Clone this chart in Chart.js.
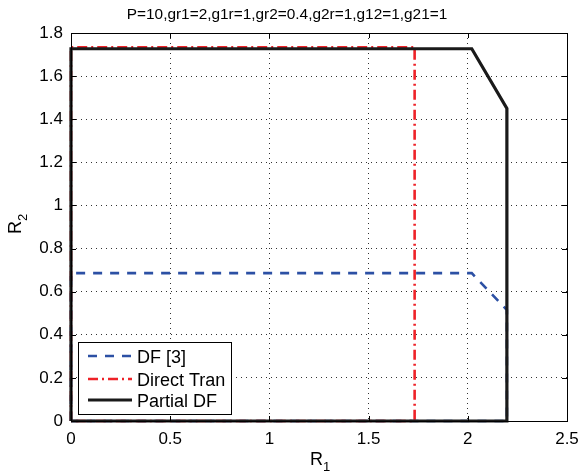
<!DOCTYPE html>
<html><head><meta charset="utf-8">
<script src="https://cdn.jsdelivr.net/npm/chart.js@4/dist/chart.umd.min.js"></script>
<style>html,body{margin:0;padding:0;background:#fff}#wrap{width:581px;height:474px;position:relative}</style>
</head><body><div id="wrap"><canvas id="c" width="581" height="474"></canvas></div>
<script>
const titleText = 'P=10,gr1=2,g1r=1,gr2=0.4,g2r=1,g12=1,g21=1';
const xLabelMain = 'R', xLabelSub = '1';
const yLabelMain = 'R', yLabelSub = '2';
const xTicks = [0, 0.5, 1, 1.5, 2, 2.5];
const yTicks = [0, 0.2, 0.4, 0.6, 0.8, 1, 1.2, 1.4, 1.6, 1.8];
const seriesNames = ['DF [3]', 'Direct Tran', 'Partial DF'];
const dfX  = [0, 0, 2.02, 2.197, 2.197, 0];
const dfY  = [0, 0.686, 0.686, 0.515, 0, 0];
const dtX  = [0, 0, 1.732, 1.732, 0];
const dtY  = [0, 1.734, 1.734, 0, 0];
const pdfX = [0, 0, 2.02, 2.197, 2.197, 0];
const pdfY = [0, 1.727, 1.727, 1.45, 0, 0];

const FONT = '"Liberation Sans", Arial, Helvetica, sans-serif';
const pts = (xs, ys) => xs.map((x, i) => ({x, y: ys[i]}));

const styles = [
  {color: '#2c50a4', width: 2.6, dash: [9, 8], order: 2},
  {color: '#ee2228', width: 2.6, dash: [10, 4, 2, 4], order: 1},
  {color: '#1a1a1a', width: 3.2, dash: [], order: 0}
];
const seriesData = [pts(dfX, dfY), pts(dtX, dtY), pts(pdfX, pdfY)];

const decor = {
  id: 'decor',
  afterDraw(chart) {
    const ctx = chart.ctx, a = chart.chartArea;
    const xs = chart.scales.x, ys = chart.scales.y;
    ctx.save();
    ctx.strokeStyle = '#000'; ctx.lineWidth = 1; ctx.setLineDash([]);
    ctx.strokeRect(a.left + 0.5, a.top + 0.5, a.right - a.left, a.bottom - a.top);
    ctx.beginPath();
    xTicks.forEach(v => {
      const p = Math.round(xs.getPixelForValue(v)) + 0.5;
      ctx.moveTo(p, a.bottom); ctx.lineTo(p, a.bottom - 5);
      ctx.moveTo(p, a.top); ctx.lineTo(p, a.top + 5);
    });
    yTicks.forEach(v => {
      const p = Math.round(ys.getPixelForValue(v)) + 0.5;
      ctx.moveTo(a.left, p); ctx.lineTo(a.left + 5, p);
      ctx.moveTo(a.right, p); ctx.lineTo(a.right - 5, p);
    });
    ctx.stroke();
    ctx.fillStyle = '#000';
    ctx.font = '15.4px ' + FONT;
    ctx.textAlign = 'center'; ctx.textBaseline = 'alphabetic';
    ctx.fillText(titleText, 287, 19);
    ctx.textAlign = 'left';
    ctx.font = '18px ' + FONT;
    ctx.fillText(xLabelMain, 310, 465);
    const rw = ctx.measureText(xLabelMain).width;
    ctx.font = '13px ' + FONT;
    ctx.fillText(xLabelSub, 310 + rw, 471);
    ctx.save();
    ctx.translate(21, 234);
    ctx.rotate(-Math.PI / 2);
    ctx.font = '18px ' + FONT;
    ctx.fillText(yLabelMain, 0, 0);
    const rw2 = ctx.measureText(yLabelMain).width;
    ctx.font = '13px ' + FONT;
    ctx.fillText(yLabelSub, rw2, 6);
    ctx.restore();
    const lx = 78, ly = 342, lw = 153, lh = 72;
    ctx.fillStyle = '#fff';
    ctx.fillRect(lx, ly, lw, lh);
    ctx.strokeStyle = '#000'; ctx.lineWidth = 1;
    ctx.strokeRect(lx + 0.5, ly + 0.5, lw, lh);
    const rows = [356, 379, 400];
    seriesNames.forEach((name, i) => {
      const s = styles[i];
      ctx.strokeStyle = s.color; ctx.lineWidth = s.width; ctx.setLineDash(s.dash);
      ctx.beginPath(); ctx.moveTo(88, rows[i]); ctx.lineTo(132, rows[i]); ctx.stroke();
      ctx.setLineDash([]);
      ctx.fillStyle = '#000'; ctx.font = '18px ' + FONT; ctx.textAlign = 'left';
      ctx.fillText(name, 137, rows[i] + 6.5);
    });
    ctx.restore();
  }
};

const fmt = v => String(+(+v).toFixed(2));

new Chart(document.getElementById('c'), {
  type: 'scatter',
  data: {
    datasets: seriesNames.map((name, i) => ({
      label: name,
      data: seriesData[i],
      showLine: true,
      borderColor: styles[i].color,
      backgroundColor: styles[i].color,
      borderWidth: styles[i].width,
      borderDash: styles[i].dash,
      pointRadius: 0,
      tension: 0,
      order: styles[i].order,
      clip: 6
    }))
  },
  options: {
    responsive: false,
    animation: false,
    devicePixelRatio: 1,
    layout: {padding: {top: 33, right: 0, left: 0, bottom: 0}},
    plugins: {legend: {display: false}, title: {display: false}, tooltip: {enabled: false}},
    scales: {
      x: {
        type: 'linear', min: 0, max: 2.5,
        afterBuildTicks: s => { s.ticks = xTicks.map(v => ({value: v})); },
        afterFit: s => { s.height = 53; s.paddingRight = 14; s.paddingLeft = 0; },
        grid: {color: '#333', lineWidth: 1, drawTicks: false},
        border: {display: false, dash: [1, 4]},
        ticks: {padding: 8, color: '#000', font: {family: FONT, size: 17}, maxRotation: 0, callback: fmt}
      },
      y: {
        type: 'linear', min: 0, max: 1.8,
        afterBuildTicks: s => { s.ticks = yTicks.map(v => ({value: v})); },
        afterFit: s => { s.width = 71; },
        grid: {color: '#333', lineWidth: 1, drawTicks: false},
        border: {display: false, dash: [1, 4]},
        ticks: {padding: 8, color: '#000', font: {family: FONT, size: 17}, callback: fmt}
      }
    }
  },
  plugins: [decor]
});
</script>
</body></html>
